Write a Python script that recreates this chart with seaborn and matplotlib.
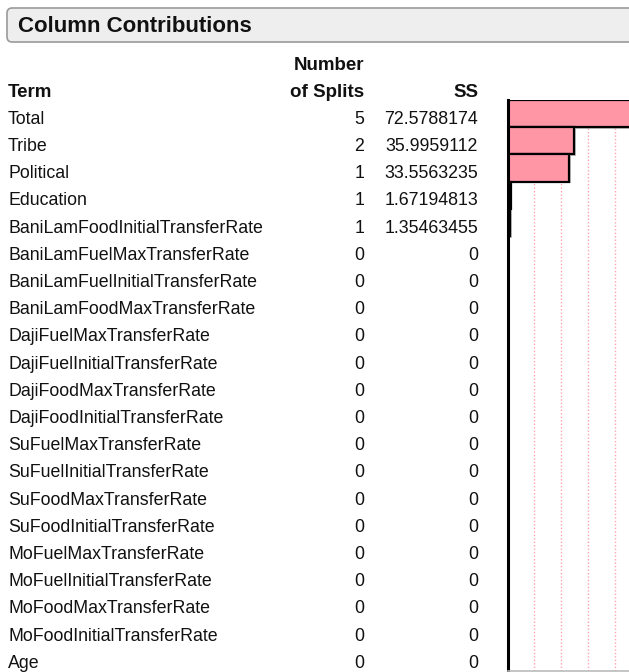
import numpy as np
import pandas as pd
import seaborn as sns
import matplotlib.pyplot as plt
import matplotlib.transforms as mtransforms
import matplotlib.patheffects as pe
from matplotlib.patches import FancyBboxPatch

# Column contributions table
terms = ['Total', 'Tribe', 'Political', 'Education', 'BaniLamFoodInitialTransferRate',
         'BaniLamFuelMaxTransferRate', 'BaniLamFuelInitialTransferRate', 'BaniLamFoodMaxTransferRate',
         'DajiFuelMaxTransferRate', 'DajiFuelInitialTransferRate', 'DajiFoodMaxTransferRate',
         'DajiFoodInitialTransferRate', 'SuFuelMaxTransferRate', 'SuFuelInitialTransferRate',
         'SuFoodMaxTransferRate', 'SuFoodInitialTransferRate', 'MoFuelMaxTransferRate',
         'MoFuelInitialTransferRate', 'MoFoodMaxTransferRate', 'MoFoodInitialTransferRate', 'Age']
n_splits = [5, 2, 1, 1, 1] + [0] * 16
ss = [72.5788174, 35.9959112, 33.5563235, 1.67194813, 1.35463455] + [0.0] * 16

df = pd.DataFrame({'Term': terms, 'Splits': n_splits, 'SS': ss})

sns.set_style('white')
plt.rcParams['font.family'] = ['Liberation Sans', 'DejaVu Sans']
plt.rcParams['text.color'] = '#111111'

fig = plt.figure(figsize=(6.29, 6.72), dpi=100)
W, H = 629, 672

# title bar
box = FancyBboxPatch((7 / W, 1 - 42 / H), 640 / W, 34 / H,
                     boxstyle='round,pad=0,rounding_size=0.008',
                     transform=fig.transFigure, facecolor='#EEEEEE',
                     edgecolor='#9A9A9A', linewidth=1.2, clip_on=False)
fig.patches.append(box)
fig.text(18 / W, 1 - 26.5 / H, 'Column Contributions', fontsize=16, fontweight='bold',
         va='center', ha='left')

# bar panel
ax = fig.add_axes([507.5 / W, 1 / H, 138.5 / W, 571 / H])
sns.barplot(data=df, x='SS', y='Term', orient='h', color='#FF96A6', saturation=1,
            edgecolor='black', linewidth=1.6, width=1.0, ax=ax)
for p in ax.patches:
    p.set_path_effects([pe.SimplePatchShadow(offset=(1.2, -1.2), shadow_rgbFace='#999999', alpha=0.6),
                        pe.Normal()])
ax.set_xlim(0, 75)
ax.set_ylim(len(terms) - 0.5, -0.5)
ax.set_xticks([df['SS'].iloc[0] * k / 5 for k in range(1, 5)])
ax.set_xticklabels([])
ax.set_yticks([])
ax.tick_params(length=0)
ax.set_xlabel('')
ax.set_ylabel('')
ax.xaxis.grid(True, color='#FFA3B3', linestyle=(0, (1, 1.5)), linewidth=1)
ax.set_axisbelow(True)
for s in ['top', 'right']:
    ax.spines[s].set_visible(False)
ax.spines['left'].set_color('black')
ax.spines['left'].set_linewidth(2.2)
ax.spines['bottom'].set_color('#BBBBBB')
ax.spines['bottom'].set_linewidth(1.2)

# table text, aligned with the bar rows
tr = mtransforms.blended_transform_factory(fig.transFigure, ax.transData)
off = 0.38
x_term, x_split, x_ss = 8 / W, 364 / W, 478 / W
hdr = dict(fontsize=13.5, fontweight='bold', transform=tr, va='baseline')
fig.text(x_split, -2 + off, 'Number', ha='right', **hdr)
fig.text(x_term, -1 + off, 'Term', ha='left', **hdr)
fig.text(x_split, -1 + off, 'of Splits', ha='right', **hdr)
fig.text(x_ss, -1 + off, 'SS', ha='right', **hdr)
for i, row in df.iterrows():
    fig.text(x_term, i + off, row['Term'], ha='left', va='baseline', fontsize=12.8, transform=tr)
    fig.text(x_split, i + off, str(row['Splits']), ha='right', va='baseline', fontsize=12.8, transform=tr)
    fig.text(x_ss, i + off, '{:.9g}'.format(row['SS']), ha='right', va='baseline', fontsize=12.8, transform=tr)

plt.savefig('out.png', dpi=100)
